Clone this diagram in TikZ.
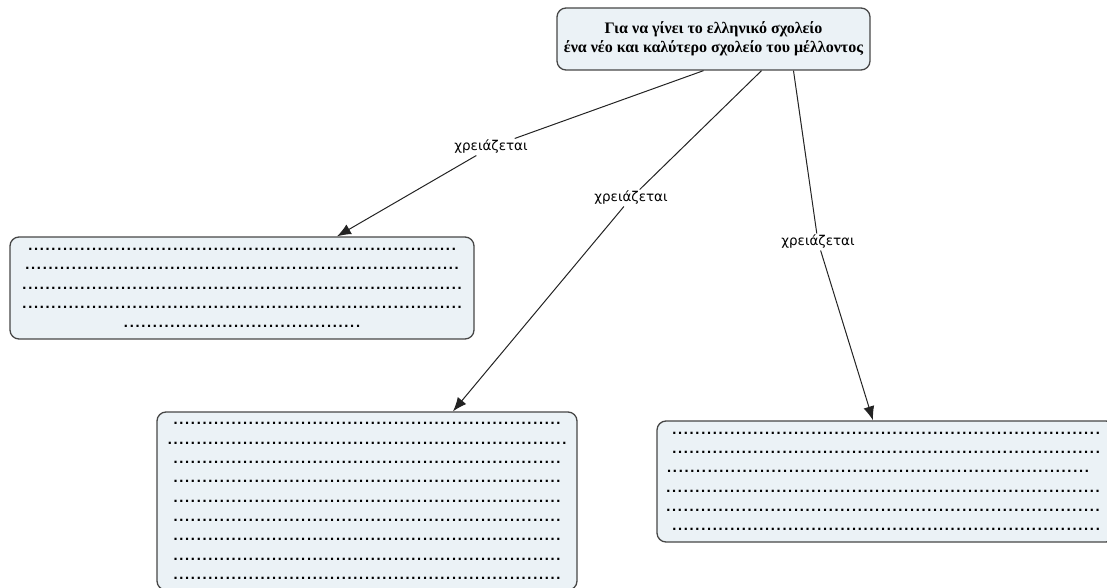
\documentclass[tikz,border=0pt]{standalone}
\usepackage{fontspec}
\setmainfont{Liberation Serif}
\newfontfamily\labelfont{DejaVu Sans}
\newfontfamily\dotfont{DejaVu Sans}
\usetikzlibrary{arrows.meta}
\definecolor{boxfill}{RGB}{235,242,246}
\definecolor{boxline}{RGB}{70,70,70}
\definecolor{linkline}{RGB}{35,35,35}
\newcount\dotcnt
\newcommand\dotline[1]{\dotcnt=#1\relax\loop\makebox[5.8pt]{.}\advance\dotcnt by -1\relax\ifnum\dotcnt>0\repeat}
\tikzset{
  concept/.style={draw=boxline, line width=1.3pt, fill=boxfill, rounded corners=9pt, inner sep=0pt, align=center},
  dotbox/.style={concept, font=\dotfont\bfseries\fontsize{12}{19.3}\selectfont},
  linklabel/.style={fill=white, inner sep=1.5pt, font=\labelfont\fontsize{13.5}{15}\selectfont},
  link/.style={draw=linkline, line width=1pt},
  arrowlink/.style={link, -{Latex[length=14pt,width=11pt]}},
}
\begin{document}
\begin{tikzpicture}[x=1pt,y=-1pt]
\useasboundingbox (0,0) rectangle (1107,588);
\clip (0,0) rectangle (1107,588);
\node[concept, minimum width=313pt, minimum height=62pt, font=\bfseries\fontsize{16}{19.5}\selectfont] (top) at (713.5,39)
  {Για να γίνει το ελληνικό σχολείο\\ένα νέο και καλύτερο σχολείο του μέλλοντος};
\node[dotbox, minimum width=464pt, minimum height=102pt] (b1) at (242,288)
  {\dotline{74}\\\dotline{75}\\\dotline{76}\\\dotline{76}\\\dotline{41}};
\node[dotbox, minimum width=420pt, minimum height=178pt] (b2) at (367,501)
  {\dotline{67}\\\dotline{69}\\\dotline{67}\\\dotline{67}\\\dotline{67}\\\dotline{67}\\\dotline{67}\\\dotline{67}\\\dotline{67}};
\node[dotbox, minimum width=458pt, minimum height=121pt] (b3) at (886,481.5)
  {\dotline{74}\\\dotline{74}\\\dotline{73}\makebox[16pt]{}\\\dotline{75}\makebox[6pt]{}\\\dotline{75}\makebox[6pt]{}\\\dotline{74}};
\node[linklabel] (l1) at (491,147) {χρειάζεται};
\node[linklabel] (l2) at (631,198) {χρειάζεται};
\node[linklabel] (l3) at (818,242) {χρειάζεται};
\draw[link] ([xshift=-10pt]top.south) -- (l1);
\draw[arrowlink] (l1) -- ([xshift=95pt]b1.north);
\draw[link] ([xshift=48pt]top.south) -- (l2);
\draw[arrowlink] (l2) -- ([xshift=86pt]b2.north);
\draw[link] ([xshift=80pt]top.south) -- (l3);
\draw[arrowlink] (l3) -- ([xshift=-13pt]b3.north);
\end{tikzpicture}
\end{document}
